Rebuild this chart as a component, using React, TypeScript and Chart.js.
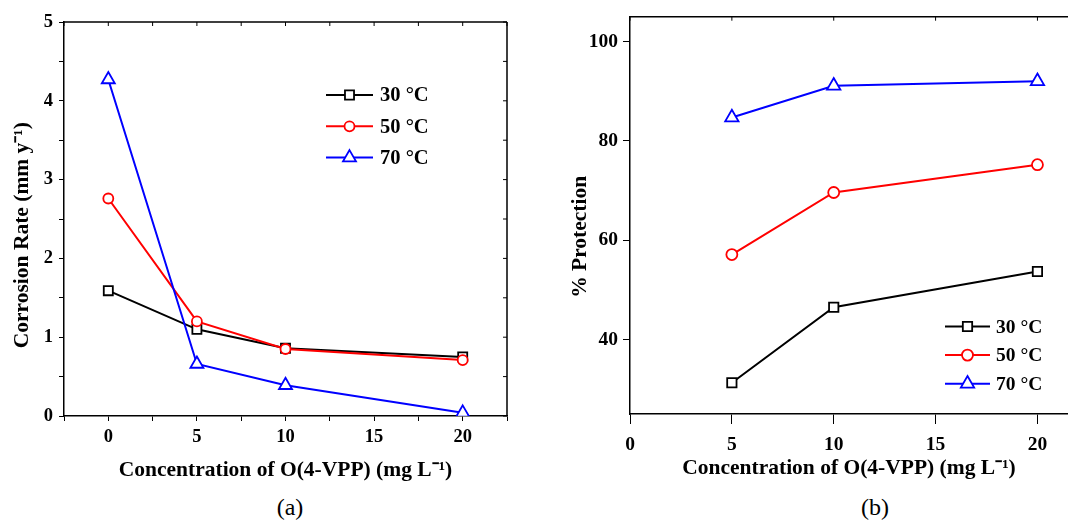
import React, { useEffect, useRef } from 'react';
import { Chart, registerables } from 'chart.js';

Chart.register(...registerables);

// ---- data ----
const seriesLabels = ['30 °C', '50 °C', '70 °C'];
const seriesColors = ['#000000', '#ff0000', '#0000ff'];
const seriesPointStyles = ['rect', 'circle', 'triangle'];

// Panel (a): corrosion rate
const rateConc = [0, 5, 10, 20];
const rate30 = [1.59, 1.1, 0.86, 0.75];
const rate50 = [2.76, 1.2, 0.85, 0.71];
const rate70 = [4.27, 0.66, 0.39, 0.04];

// Panel (b): % protection
const protConc = [5, 10, 20];
const prot30 = [31.3, 46.5, 53.7];
const prot50 = [57.1, 69.6, 75.2];
const prot70 = [84.7, 91.1, 92.0];
const protYTicks = [40, 60, 80, 100];

const xTitle = 'Concentration of O(4-VPP) (mg L⁻¹)';
const yTitleA = 'Corrosion Rate (mm y⁻¹)';
const yTitleB = '% Protection';

const SERIF = "'Liberation Serif', 'Times New Roman', Times, serif";

function drawMarker(ctx: CanvasRenderingContext2D, style: string, x: number, y: number, r: number) {
  ctx.beginPath();
  if (style === 'rect') {
    const s = Math.SQRT1_2 * r;
    ctx.rect(x - s, y - s, 2 * s, 2 * s);
  } else if (style === 'circle') {
    ctx.arc(x, y, r, 0, Math.PI * 2);
  } else {
    ctx.moveTo(x, y - r);
    ctx.lineTo(x + Math.sin((2 * Math.PI) / 3) * r, y + 0.5 * r);
    ctx.lineTo(x - Math.sin((2 * Math.PI) / 3) * r, y + 0.5 * r);
    ctx.closePath();
  }
  ctx.fill();
  ctx.stroke();
}

const framePlugin = {
  id: 'frame',
  afterDraw(chart: any, _args: any, opts: any) {
    const { ctx, chartArea: a, scales } = chart;
    ctx.save();
    ctx.strokeStyle = '#000';
    ctx.lineWidth = 1.5;
    ctx.beginPath();
    ctx.moveTo(a.left, a.top);
    ctx.lineTo(a.right, a.top);
    if (opts.right) {
      ctx.moveTo(a.right, a.top);
      ctx.lineTo(a.right, a.bottom);
    }
    ctx.stroke();
    ctx.lineWidth = 1;
    ctx.beginPath();
    for (const t of scales.x.ticks) {
      const px = scales.x.getPixelForValue(t.value);
      ctx.moveTo(px, a.top);
      ctx.lineTo(px, a.top + opts.len);
    }
    if (opts.right) {
      for (const t of scales.y.ticks) {
        const py = scales.y.getPixelForValue(t.value);
        ctx.moveTo(a.right, py);
        ctx.lineTo(a.right - opts.len, py);
      }
    }
    ctx.stroke();
    ctx.restore();
  },
};

const innerLegendPlugin = {
  id: 'innerLegend',
  afterDraw(chart: any, _args: any, opts: any) {
    const { ctx } = chart;
    ctx.save();
    ctx.font = `bold ${opts.fontSize}px ${SERIF}`;
    ctx.textBaseline = 'middle';
    ctx.textAlign = 'left';
    chart.data.datasets.forEach((ds: any, i: number) => {
      const y = opts.y + i * opts.spacing;
      ctx.strokeStyle = ds.borderColor;
      ctx.lineWidth = 2;
      ctx.beginPath();
      ctx.moveTo(opts.x, y);
      ctx.lineTo(opts.x + opts.lineLen, y);
      ctx.stroke();
      ctx.fillStyle = '#fff';
      ctx.lineWidth = 1.8;
      drawMarker(ctx, ds.pointStyle, opts.x + opts.lineLen / 2, y, ds.pointRadius);
      ctx.fillStyle = '#000';
      ctx.fillText(ds.label, opts.x + opts.lineLen + opts.gap, y + 1);
    });
    ctx.restore();
  },
};

function makeDatasets(xs: number[], series: number[][], radii: number[]) {
  return series.map((vals, i) => ({
    label: seriesLabels[i],
    data: xs.map((x, j) => ({ x, y: vals[j] })),
    borderColor: seriesColors[i],
    backgroundColor: seriesColors[i],
    borderWidth: 2,
    pointStyle: seriesPointStyles[i],
    pointRadius: radii[i],
    pointBorderWidth: 1.8,
    pointBackgroundColor: '#ffffff',
    pointBorderColor: seriesColors[i],
    tension: 0,
    order: 3 - i,
  }));
}

function useChart(ref: React.RefObject<HTMLCanvasElement | null>, build: () => any) {
  useEffect(() => {
    if (!ref.current) return;
    const chart = new Chart(ref.current, build());
    return () => chart.destroy();
  }, []);
}

export default function App() {
  const refA = useRef<HTMLCanvasElement>(null);
  const refB = useRef<HTMLCanvasElement>(null);

  useChart(refA, () => ({
    type: 'line',
    data: { datasets: makeDatasets(rateConc, [rate30, rate50, rate70], [6.4, 5, 7.5]) },
    options: {
      responsive: false,
      animation: false,
      events: [],
      layout: { autoPadding: false, padding: { left: 6, top: 22, right: 23, bottom: 0 } },
      plugins: {
        legend: { display: false },
        tooltip: { enabled: false },
        frame: { right: true, len: 4 },
        innerLegend: { x: 326, y: 95, spacing: 31.3, lineLen: 47, gap: 7, fontSize: 20.5 },
      },
      scales: {
        x: {
          type: 'linear',
          min: -2.5,
          max: 22.5,
          afterFit: (s: any) => { s.height = 69; },
          grid: { drawOnChartArea: false, drawTicks: true, tickLength: 5, tickColor: '#000', tickWidth: 1 },
          border: { display: true, color: '#000', width: 1.5 },
          ticks: {
            stepSize: 2.5,
            padding: 5,
            maxRotation: 0,
            autoSkip: false,
            color: '#000',
            font: { family: SERIF, size: 18.5, weight: 'bold' },
            callback: (v: number) => (Math.abs(v % 5) < 1e-9 ? String(v) : ''),
          },
          title: {
            display: true,
            text: xTitle,
            color: '#000',
            font: { family: SERIF, size: 21.5, weight: 'bold' },
            padding: { top: 0, bottom: 2 },
          },
        },
        y: {
          type: 'linear',
          min: 0,
          max: 5,
          afterFit: (s: any) => { s.width = 58; },
          grid: { drawOnChartArea: false, drawTicks: true, tickLength: 5, tickColor: '#000', tickWidth: 1 },
          border: { display: true, color: '#000', width: 1.5 },
          ticks: {
            stepSize: 0.5,
            padding: 6,
            autoSkip: false,
            color: '#000',
            font: { family: SERIF, size: 18.5, weight: 'bold' },
            callback: (v: number) => (Math.abs(v % 1) < 1e-9 ? String(v) : ''),
          },
          title: {
            display: true,
            text: yTitleA + '      ',
            color: '#000',
            font: { family: SERIF, size: 21.5, weight: 'bold' },
            padding: { top: 4, bottom: 0 },
          },
        },
      },
    },
    plugins: [framePlugin, innerLegendPlugin],
  }));

  useChart(refB, () => ({
    type: 'line',
    data: { datasets: makeDatasets(protConc, [prot30, prot50, prot70], [6.6, 5.5, 7.7]) },
    options: {
      responsive: false,
      animation: false,
      events: [],
      layout: { autoPadding: false, padding: { left: 24, top: 15.5, right: 0, bottom: 0 } },
      plugins: {
        legend: { display: false },
        tooltip: { enabled: false },
        frame: { right: false, len: 4 },
        innerLegend: { x: 405, y: 326.5, spacing: 28.6, lineLen: 45, gap: 6, fontSize: 19.5 },
      },
      scales: {
        x: {
          type: 'linear',
          min: 0,
          max: 21.5,
          afterFit: (s: any) => { s.height = 71; },
          grid: { drawOnChartArea: false, drawTicks: true, tickLength: 10, tickColor: '#000', tickWidth: 1 },
          border: { display: true, color: '#000', width: 1.5 },
          ticks: {
            stepSize: 5,
            includeBounds: false,
            padding: 9,
            maxRotation: 0,
            autoSkip: false,
            color: '#000',
            font: { family: SERIF, size: 19.5, weight: 'bold' },
          },
          title: {
            display: true,
            text: xTitle,
            color: '#000',
            font: { family: SERIF, size: 21.5, weight: 'bold' },
            padding: { top: 0, bottom: 4 },
          },
        },
        y: {
          type: 'linear',
          min: 25,
          max: 105,
          afterFit: (s: any) => { s.width = 66; },
          afterBuildTicks: (s: any) => { s.ticks = protYTicks.map((v) => ({ value: v })); },
          grid: { drawOnChartArea: false, drawTicks: true, tickLength: 7, tickColor: '#000', tickWidth: 1 },
          border: { display: true, color: '#000', width: 1.5 },
          ticks: {
            padding: 5,
            autoSkip: false,
            color: '#000',
            font: { family: SERIF, size: 19.5, weight: 'bold' },
          },
          title: {
            display: true,
            text: yTitleB + '        ',
            color: '#000',
            font: { family: SERIF, size: 21.5, weight: 'bold' },
            padding: { top: 4, bottom: 0 },
          },
        },
      },
    },
    plugins: [framePlugin, innerLegendPlugin],
  }));

  const caption: React.CSSProperties = {
    position: 'absolute',
    top: 492,
    width: 80,
    textAlign: 'center',
    fontFamily: SERIF,
    fontSize: 24,
    lineHeight: '30px',
    color: '#000',
  };

  return (
    <div style={{ position: 'fixed', left: 0, top: 0, width: 1068, height: 523, overflow: 'hidden', background: '#fff' }}>
      <canvas ref={refA} width={530} height={485} style={{ position: 'absolute', left: 0, top: 0, width: 530, height: 485 }} />
      <canvas ref={refB} width={528} height={485} style={{ position: 'absolute', left: 540, top: 0, width: 528, height: 485 }} />
      <div style={{ ...caption, left: 250 }}>(a)</div>
      <div style={{ ...caption, left: 835 }}>(b)</div>
    </div>
  );
}
